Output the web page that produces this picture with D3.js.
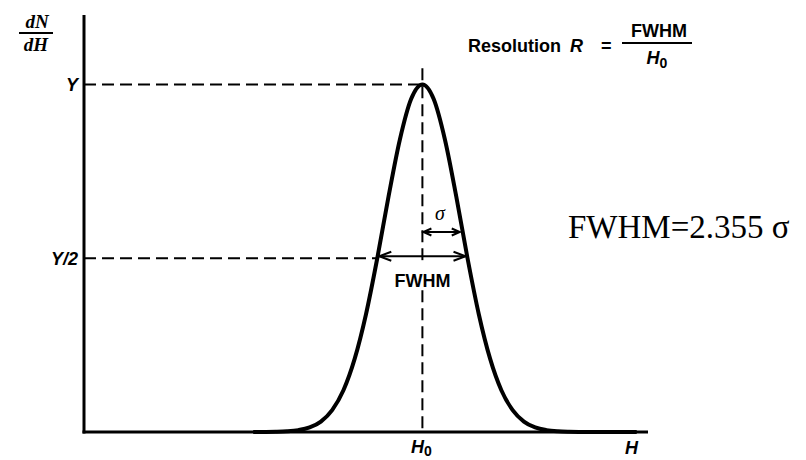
<!DOCTYPE html>
<html>
<head>
<meta charset="utf-8">
<script src="https://cdn.jsdelivr.net/npm/d3@7/dist/d3.min.js"></script>
<style>
  html, body { margin: 0; padding: 0; background: #fff; }
  svg { display: block; }
</style>
</head>
<body>
<svg id="chart" width="806" height="460"></svg>
<script>
// ---- data ----
const energyH = [30, 32, 34, 36, 38, 40, 42, 44, 46, 48, 50, 52, 54, 56, 58, 60,
                 62, 64, 66, 68, 70, 72, 74, 76, 78, 80, 82, 84, 86, 88, 90, 92, 94, 96, 98];
const curveValues = [0.0000, 0.0002, 0.0007, 0.0020, 0.0053, 0.013, 0.030, 0.063, 0.120, 0.211,
                     0.339, 0.500, 0.678, 0.841, 0.958, 1.000, 0.958, 0.841, 0.678, 0.500,
                     0.339, 0.211, 0.120, 0.063, 0.030, 0.013, 0.0053, 0.0020, 0.0007, 0.0002,
                     0.0000, 0.0000, 0.0000, 0.0000, 0.0000];
const peakH = [60];          // H0
const peakY = [1.0];         // Y
const halfY = [0.5];         // Y/2
const fwhmEdges = [52, 68];  // H where curve crosses Y/2
const sigmaEdges = [60, 66.8];
const yLabels = ["Y", "Y/2"];
const xLabels = ["H", "H"];
const xDomain = [0, 100];
const yDomain = [0, 1.2];

// ---- layout ----
const svg = d3.select("#chart");
const x = d3.scaleLinear().domain(xDomain).range([84, 648]);
const y = d3.scaleLinear().domain(yDomain).range([432, 15]);

const pts = energyH.map((h, i) => ({ h: h, v: curveValues[i] }));

const sans = "'Liberation Sans', Arial, Helvetica, sans-serif";
const serif = "'Liberation Serif', 'Times New Roman', serif";

// dashed guide lines
const dash = "12,6";
svg.append("line").attr("x1", x(0)).attr("x2", x(peakH[0]))
  .attr("y1", y(peakY[0])).attr("y2", y(peakY[0]))
  .attr("stroke", "#000").attr("stroke-width", 2).attr("stroke-dasharray", dash);
svg.append("line").attr("x1", x(0)).attr("x2", x(fwhmEdges[0]))
  .attr("y1", y(halfY[0])).attr("y2", y(halfY[0]))
  .attr("stroke", "#000").attr("stroke-width", 2).attr("stroke-dasharray", dash);
// vertical dashed line at H0 (broken where the FWHM label sits)
svg.append("line").attr("x1", x(peakH[0])).attr("x2", x(peakH[0]))
  .attr("y1", y(1.047)).attr("y2", y(halfY[0]) + 6)
  .attr("stroke", "#000").attr("stroke-width", 2).attr("stroke-dasharray", dash);
svg.append("line").attr("x1", x(peakH[0])).attr("x2", x(peakH[0]))
  .attr("y1", y(halfY[0]) + 32).attr("y2", y(0))
  .attr("stroke", "#000").attr("stroke-width", 2).attr("stroke-dasharray", dash);

// axes (plain lines, no ticks)
svg.append("line").attr("x1", x(0)).attr("x2", x(0)).attr("y1", y(0) + 1.5).attr("y2", y(yDomain[1]))
  .attr("stroke", "#000").attr("stroke-width", 3);
svg.append("line").attr("x1", x(0) - 1.5).attr("x2", x(xDomain[1])).attr("y1", y(0)).attr("y2", y(0))
  .attr("stroke", "#000").attr("stroke-width", 3);

// curve
const line = d3.line().x(d => x(d.h)).y(d => y(d.v)).curve(d3.curveMonotoneX);
svg.append("path").datum(pts)
  .attr("d", line).attr("fill", "none").attr("stroke", "#000").attr("stroke-width", 4)
  .attr("stroke-linejoin", "round");

// arrows
function dblArrow(x1, x2, yy, head, half, sw) {
  svg.append("line").attr("x1", x1).attr("x2", x2).attr("y1", yy).attr("y2", yy)
    .attr("stroke", "#000").attr("stroke-width", sw);
  svg.append("path")
    .attr("d", `M${x1 + head},${yy - half} L${x1},${yy} L${x1 + head},${yy + half}`)
    .attr("fill", "none").attr("stroke", "#000").attr("stroke-width", sw);
  svg.append("path")
    .attr("d", `M${x2 - head},${yy - half} L${x2},${yy} L${x2 - head},${yy + half}`)
    .attr("fill", "none").attr("stroke", "#000").attr("stroke-width", sw);
}
dblArrow(x(fwhmEdges[0]) + 2, x(fwhmEdges[1]) - 2, y(halfY[0]) - 2, 12, 4.5, 2);
dblArrow(x(sigmaEdges[0]) + 1, x(sigmaEdges[1]) - 1, 232, 8, 3.5, 2);

// labels
svg.append("text").attr("x", 37).attr("y", 28).attr("text-anchor", "middle")
  .attr("font-family", serif).attr("font-weight", "bold").attr("font-style", "italic")
  .attr("font-size", 19).text("dN");
svg.append("line").attr("x1", 19).attr("x2", 53).attr("y1", 33).attr("y2", 33)
  .attr("stroke", "#000").attr("stroke-width", 2);
svg.append("text").attr("x", 36).attr("y", 51).attr("text-anchor", "middle")
  .attr("font-family", serif).attr("font-weight", "bold").attr("font-style", "italic")
  .attr("font-size", 19).text("dH");

svg.append("text").attr("x", 78).attr("y", y(peakY[0]) + 6.5).attr("text-anchor", "end")
  .attr("font-family", sans).attr("font-weight", "bold").attr("font-style", "italic")
  .attr("font-size", 18).text(yLabels[0]);
svg.append("text").attr("x", 78).attr("y", y(halfY[0]) + 7).attr("text-anchor", "end")
  .attr("font-family", sans).attr("font-weight", "bold").attr("font-style", "italic")
  .attr("font-size", 18).text(yLabels[1]);

const h0 = svg.append("text").attr("x", x(peakH[0]) - 1).attr("y", 453).attr("text-anchor", "middle")
  .attr("font-family", sans).attr("font-weight", "bold").attr("font-style", "italic")
  .attr("font-size", 18);
h0.append("tspan").text(xLabels[1]);
h0.append("tspan").attr("dy", 3).attr("font-size", 14).attr("font-style", "normal").text("0");

svg.append("text").attr("x", 625).attr("y", 454)
  .attr("font-family", sans).attr("font-weight", "bold").attr("font-style", "italic")
  .attr("font-size", 18).text(xLabels[0]);

svg.append("text").attr("x", x(peakH[0])).attr("y", 287).attr("text-anchor", "middle")
  .attr("font-family", sans).attr("font-weight", "bold").attr("font-size", 18).text("FWHM");

svg.append("text").attr("x", 440).attr("y", 220).attr("text-anchor", "middle")
  .attr("font-family", serif).attr("font-style", "italic").attr("font-size", 20).text("σ");

svg.append("text").attr("x", 568).attr("y", 238)
  .attr("font-family", serif).attr("font-size", 33).text("FWHM=2.355 σ");

// resolution formula
svg.append("text").attr("x", 468).attr("y", 52)
  .attr("font-family", sans).attr("font-weight", "bold").attr("font-size", 18).text("Resolution");
svg.append("text").attr("x", 570).attr("y", 52)
  .attr("font-family", sans).attr("font-weight", "bold").attr("font-style", "italic")
  .attr("font-size", 18).text("R");
svg.append("text").attr("x", 601).attr("y", 52)
  .attr("font-family", sans).attr("font-weight", "bold").attr("font-size", 18).text("=");
svg.append("line").attr("x1", 622).attr("x2", 692).attr("y1", 43).attr("y2", 43)
  .attr("stroke", "#000").attr("stroke-width", 2);
svg.append("text").attr("x", 659).attr("y", 37).attr("text-anchor", "middle")
  .attr("font-family", sans).attr("font-weight", "bold").attr("font-size", 18).text("FWHM");
const hd = svg.append("text").attr("x", 657).attr("y", 64).attr("text-anchor", "middle")
  .attr("font-family", sans).attr("font-weight", "bold").attr("font-style", "italic")
  .attr("font-size", 18);
hd.append("tspan").text("H");
hd.append("tspan").attr("dy", 4).attr("font-size", 14).attr("font-style", "normal").text("0");
</script>
</body>
</html>
